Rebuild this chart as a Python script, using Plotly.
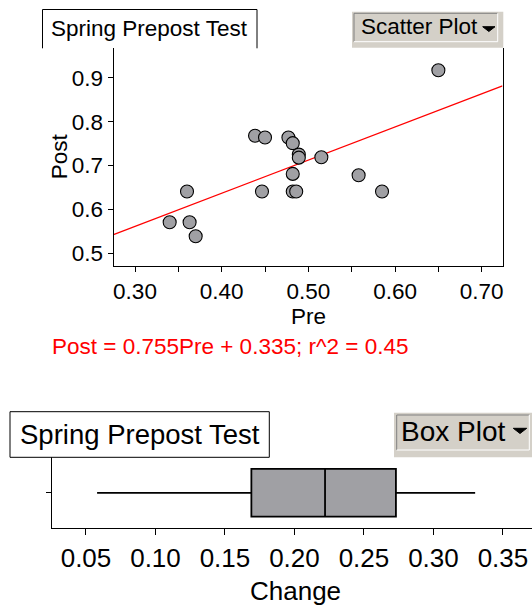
import plotly.graph_objects as go

# ---------------- data ----------------
pre = [0.650, 0.4385, 0.450, 0.477, 0.482, 0.489, 0.489, 0.515, 0.482,
       0.558, 0.360, 0.4465, 0.482, 0.486, 0.585, 0.340, 0.363, 0.370]
post = [0.917, 0.768, 0.764, 0.764, 0.751, 0.725, 0.718, 0.719, 0.681,
        0.678, 0.641, 0.641, 0.641, 0.641, 0.641, 0.571, 0.571, 0.539]
fit_slope = 0.755
fit_intercept = 0.335
fit_label = "Post = 0.755Pre + 0.335; r^2 = 0.45"

pre_range = [0.2752, 0.724]
post_range = [0.472, 0.967]
pre_ticks = [0.30, 0.40, 0.50, 0.60, 0.70]
pre_ticktext = ["0.30", "0.40", "0.50", "0.60", "0.70"]
post_ticks = [0.5, 0.6, 0.7, 0.8, 0.9]
post_ticktext = ["0.5", "0.6", "0.7", "0.8", "0.9"]

# box plot of Change
change_lo = [0.058]
change_q1 = [0.169]
change_med = [0.222]
change_q3 = [0.273]
change_hi = [0.330]
change_range = [0.0252, 0.3709]
change_ticks = [0.05, 0.10, 0.15, 0.20, 0.25, 0.30, 0.35]
change_ticktext = ["0.05", "0.10", "0.15", "0.20", "0.25", "0.30", "0.35"]

title_text = "Spring Prepost Test"

# ---------------- layout helpers ----------------
W, H = 532, 606
FONT = "Liberation Sans, Arial, sans-serif"
BTN = "#d4d0c8"
GREY = "#a0a0a4"


def fx(px):
    return px / W


def fy(py):
    return 1 - py / H


fig = go.Figure()

# regression line
fit_x = list(pre_range)
fit_y = [fit_slope * v + fit_intercept for v in fit_x]
fig.add_trace(go.Scatter(x=fit_x, y=fit_y, mode="lines",
                         line=dict(color="#ff0000", width=1.3),
                         xaxis="x", yaxis="y", showlegend=False, hoverinfo="skip"))
fig.add_trace(go.Scatter(x=pre, y=post, mode="markers",
                         marker=dict(size=13, color=GREY,
                                     line=dict(color="black", width=1.1)),
                         xaxis="x", yaxis="y", showlegend=False))

fig.add_trace(go.Box(orientation="h", y=[0], q1=change_q1, median=change_med,
                     q3=change_q3, lowerfence=change_lo, upperfence=change_hi,
                     width=0.672, whiskerwidth=0, fillcolor=GREY,
                     line=dict(color="black", width=1.8),
                     xaxis="x2", yaxis="y2", showlegend=False, boxpoints=False))

axis_common = dict(showline=True, linecolor="black", linewidth=1, ticks="outside",
                   tickcolor="black", showgrid=False, zeroline=False)

fig.update_layout(
    width=W, height=H, margin=dict(l=0, r=0, t=0, b=0),
    paper_bgcolor="white", plot_bgcolor="white",
    font=dict(family=FONT, color="black"),
    xaxis=dict(domain=[fx(113.5), fx(502.5)], range=pre_range, anchor="y",
               tickvals=pre_ticks, ticktext=pre_ticktext, ticklen=5,
               tickfont=dict(size=22.5),
               minor=dict(dtick=0.05, tick0=0.3, ticks="outside", ticklen=5,
                          tickcolor="black", showgrid=False),
               **axis_common),
    yaxis=dict(domain=[fy(265.7), fy(48.3)], range=post_range, anchor="x",
               tickvals=post_ticks, ticktext=post_ticktext, ticklen=5,
               tickfont=dict(size=22.5), mirror=True, **axis_common),
    xaxis2=dict(domain=[fx(51.5), 1.0], range=change_range, anchor="y2",
                tickvals=change_ticks, ticktext=change_ticktext, ticklen=6,
                tickfont=dict(size=26), **axis_common),
    yaxis2=dict(domain=[fy(528.3), fy(457.3)], range=[-0.5, 0.5], anchor="x2",
                tickvals=[0], ticktext=[""], ticklen=5, **axis_common),
)

shapes = []
annotations = []

# top title box (open at bottom)
shapes.append(dict(type="path", xref="paper", yref="paper",
                   path=f"M {fx(42.5)},{fy(48.3)} L {fx(42.5)},{fy(9.5)} L {fx(257)},{fy(9.5)} L {fx(257)},{fy(48.3)}",
                   line=dict(color="black", width=1)))
annotations.append(dict(text=title_text, x=fx(149.7), y=fy(28.8), xref="paper", yref="paper",
                        xanchor="center", yanchor="middle", showarrow=False,
                        font=dict(size=22.5, family=FONT, color="black")))

# Scatter Plot button
shapes.append(dict(type="rect", xref="paper", yref="paper", x0=fx(352), x1=fx(503.3),
                   y0=fy(47.7), y1=fy(11.7), fillcolor=BTN, line=dict(width=0), layer="above"))
shapes.append(dict(type="path", xref="paper", yref="paper",
                   path=f"M {fx(354)},{fy(41.7)} L {fx(354)},{fy(13.3)} L {fx(497.7)},{fy(13.3)}",
                   line=dict(color="#808080", width=1)))
shapes.append(dict(type="path", xref="paper", yref="paper",
                   path=f"M {fx(354)},{fy(41.7)} L {fx(497.7)},{fy(41.7)} L {fx(497.7)},{fy(13.3)}",
                   line=dict(color="white", width=1)))
shapes.append(dict(type="path", xref="paper", yref="paper",
                   path=f"M {fx(482.7)},{fy(26.7)} L {fx(495)},{fy(26.7)} L {fx(488.85)},{fy(31.5)} Z",
                   fillcolor="black", line=dict(color="black", width=1)))
annotations.append(dict(text="Scatter Plot", x=fx(358.5), y=fy(26.7), xref="paper", yref="paper",
                        xanchor="left", yanchor="middle", showarrow=False,
                        font=dict(size=22.5, family=FONT, color="black")))

# axis titles & fit label
annotations.append(dict(text="Pre", x=fx(308.5), y=fy(316), xref="paper", yref="paper",
                        xanchor="center", yanchor="middle", showarrow=False,
                        font=dict(size=22.5, family=FONT, color="black")))
annotations.append(dict(text="Post", x=fx(59.3), y=fy(156), xref="paper", yref="paper",
                        xanchor="center", yanchor="middle", showarrow=False, textangle=-90,
                        font=dict(size=22.5, family=FONT, color="black")))
annotations.append(dict(text=fit_label, x=fx(49.5), y=fy(346.5), xref="paper", yref="paper",
                        xanchor="left", yanchor="middle", showarrow=False,
                        font=dict(size=22.5, family=FONT, color="#ff0000")))

# bottom title box
shapes.append(dict(type="rect", xref="paper", yref="paper", x0=fx(10), x1=fx(269.3),
                   y0=fy(457.3), y1=fy(411.7), fillcolor="white",
                   line=dict(color="black", width=1), layer="above"))
annotations.append(dict(text=title_text, x=fx(139.6), y=fy(434.5), xref="paper", yref="paper",
                        xanchor="center", yanchor="middle", showarrow=False,
                        font=dict(size=27.5, family=FONT, color="black")))

# Box Plot button
shapes.append(dict(type="rect", xref="paper", yref="paper", x0=fx(394), x1=1.0,
                   y0=fy(457.3), y1=fy(412.7), fillcolor=BTN, line=dict(width=0), layer="above"))
shapes.append(dict(type="path", xref="paper", yref="paper",
                   path=f"M {fx(396.7)},{fy(450)} L {fx(396.7)},{fy(415)} L {fx(529.3)},{fy(415)}",
                   line=dict(color="#808080", width=1)))
shapes.append(dict(type="path", xref="paper", yref="paper",
                   path=f"M {fx(396.7)},{fy(450)} L {fx(529.3)},{fy(450)} L {fx(529.3)},{fy(415)}",
                   line=dict(color="white", width=1)))
shapes.append(dict(type="path", xref="paper", yref="paper",
                   path=f"M {fx(513.3)},{fy(428.3)} L {fx(526.7)},{fy(428.3)} L {fx(520)},{fy(433.5)} Z",
                   fillcolor="black", line=dict(color="black", width=1)))
annotations.append(dict(text="Box Plot", x=fx(398.8), y=fy(431.7), xref="paper", yref="paper",
                        xanchor="left", yanchor="middle", showarrow=False,
                        font=dict(size=28, family=FONT, color="black")))

annotations.append(dict(text="Change", x=fx(295), y=fy(591), xref="paper", yref="paper",
                        xanchor="center", yanchor="middle", showarrow=False,
                        font=dict(size=26, family=FONT, color="black")))

fig.update_layout(shapes=shapes, annotations=annotations)

fig.write_html("out.html", config={"displayModeBar": False},
               post_script="document.body.style.margin='0';document.body.style.overflow='hidden';")
